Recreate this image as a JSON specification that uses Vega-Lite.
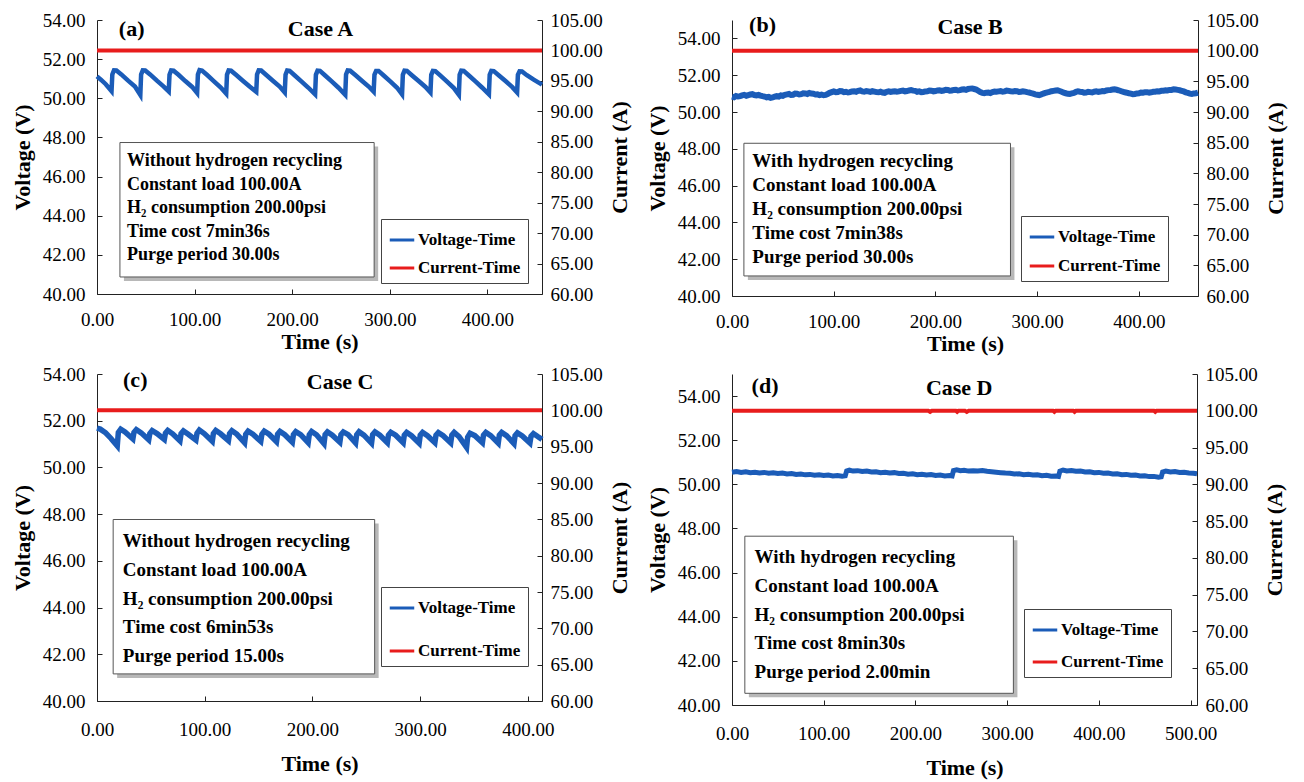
{
 "$schema": "https://vega.github.io/schema/vega-lite/v6.json",
 "padding": {"left": 11, "top": 11, "right": 4, "bottom": 5},
 "background": "white",
 "config": {
  "view": {"stroke": null},
  "axis": {"labelFont": "Liberation Serif", "labelFontSize": 19, "labelColor": "#000", "titleFont": "Liberation Serif", "titleFontSize": 22, "titleFontWeight": "bold", "titleColor": "#000", "domainColor": "#222", "tickColor": "#222", "tickSize": -5, "grid": false, "labelFlush": false, "labelOverlap": false},
  "axisBottom": {"labelPadding": 21, "titlePadding": 2},
  "axisLeft": {"labelPadding": 17, "titlePadding": 8},
  "axisRight": {"labelPadding": 13, "titlePadding": 29},
  "legend": {"labelFont": "Liberation Serif", "labelFontSize": 17, "labelFontWeight": "bold", "labelColor": "#000", "strokeColor": "#444", "fillColor": "white", "padding": 7, "symbolType": "stroke", "symbolSize": 600, "symbolStrokeWidth": 3, "labelOffset": 2}
 },
 "datasets": {
  "Av": [{"t":0,"v":51.12},{"t":4,"v":50.95},{"t":9,"v":50.72},{"t":14.9,"v":50.37},
   {"t":15.7,"v":51.22},{"t":17.4,"v":51.43},{"t":19.9,"v":51.42},{"t":24.9,"v":51.22},{"t":31.9,"v":50.9},{"t":38.9,"v":50.6},{"t":44.4,"v":50.17},
   {"t":45.2,"v":51.22},{"t":46.9,"v":51.43},{"t":49.4,"v":51.42},{"t":54.4,"v":51.22},{"t":61.4,"v":50.9},{"t":68.4,"v":50.6},{"t":73.5,"v":50.35},
   {"t":74.3,"v":51.2},{"t":76,"v":51.42},{"t":78.5,"v":51.41},{"t":83.5,"v":51.2},{"t":90.5,"v":50.88},{"t":97.5,"v":50.58},{"t":102.6,"v":50.27},
   {"t":103.4,"v":51.22},{"t":105.1,"v":51.44},{"t":107.6,"v":51.42},{"t":112.6,"v":51.2},{"t":119.6,"v":50.88},{"t":126.6,"v":50.56},{"t":132.4,"v":50.24},
   {"t":133.2,"v":51.2},{"t":134.9,"v":51.42},{"t":137.4,"v":51.41},{"t":142.4,"v":51.2},{"t":149.4,"v":50.9},{"t":156.4,"v":50.6},{"t":163.2,"v":50.33},
   {"t":164,"v":51.22},{"t":165.7,"v":51.43},{"t":168.2,"v":51.42},{"t":173.2,"v":51.2},{"t":180.2,"v":50.9},{"t":187.2,"v":50.6},{"t":192.4,"v":50.3},
   {"t":193.2,"v":51.2},{"t":194.9,"v":51.42},{"t":197.4,"v":51.4},{"t":202.4,"v":51.18},{"t":209.4,"v":50.86},{"t":216.4,"v":50.55},{"t":223.5,"v":50.2},
   {"t":224.3,"v":51.2},{"t":226,"v":51.41},{"t":228.5,"v":51.4},{"t":233.5,"v":51.18},{"t":240.5,"v":50.86},{"t":247.5,"v":50.54},{"t":254.4,"v":50.18},
   {"t":255.2,"v":51.22},{"t":256.9,"v":51.42},{"t":259.4,"v":51.41},{"t":264.4,"v":51.2},{"t":271.4,"v":50.9},{"t":278.4,"v":50.6},{"t":283.5,"v":50.34},
   {"t":284.3,"v":51.2},{"t":286,"v":51.4},{"t":288.5,"v":51.4},{"t":293.5,"v":51.18},{"t":300.5,"v":50.86},{"t":307.5,"v":50.54},{"t":312.6,"v":50.2},
   {"t":313.4,"v":51.2},{"t":315.1,"v":51.41},{"t":317.6,"v":51.4},{"t":322.6,"v":51.18},{"t":329.6,"v":50.88},{"t":336.6,"v":50.58},{"t":341.7,"v":50.3},
   {"t":342.5,"v":51.2},{"t":344.2,"v":51.4},{"t":346.7,"v":51.39},{"t":351.7,"v":51.17},{"t":358.7,"v":50.85},{"t":365.7,"v":50.52},{"t":370.8,"v":50.18},
   {"t":371.6,"v":51.2},{"t":373.3,"v":51.41},{"t":375.8,"v":51.4},{"t":380.8,"v":51.18},{"t":387.8,"v":50.86},{"t":394.8,"v":50.54},{"t":401.6,"v":50.2},
   {"t":402.4,"v":51.2},{"t":404.1,"v":51.4},{"t":406.6,"v":51.39},{"t":411.6,"v":51.18},{"t":418.6,"v":50.88},{"t":425.6,"v":50.57},{"t":430.5,"v":50.3},
   {"t":431.3,"v":51.2},{"t":433,"v":51.38},{"t":435.5,"v":51.37},{"t":440.5,"v":51.18},{"t":447.5,"v":50.95},{"t":456,"v":50.7}],
  "Ai": [{"t":0,"i":100},{"t":456,"i":100}],
  "Bv": [{"t":0,"v":50.83},{"t":2,"v":50.8},{"t":4,"v":50.87},{"t":6,"v":50.84},{"t":8,"v":50.86},{"t":10,"v":50.9},{"t":12,"v":50.93},{"t":14,"v":50.88},{"t":16,"v":50.92},{"t":18,"v":50.95},{"t":20,"v":50.97},{"t":22,"v":50.92},{"t":24,"v":50.9},{"t":26,"v":50.93},{"t":28,"v":50.89},{"t":30,"v":50.86},{"t":32,"v":50.84},{"t":34,"v":50.8},{"t":36,"v":50.82},{"t":38,"v":50.77},{"t":40,"v":50.79},{"t":42,"v":50.83},{"t":44,"v":50.86},{"t":46,"v":50.84},{"t":48,"v":50.9},{"t":50,"v":50.88},{"t":52,"v":50.93},{"t":54,"v":50.96},{"t":56,"v":50.98},{"t":58,"v":50.93},{"t":60,"v":50.94},{"t":62,"v":51.0},{"t":64,"v":50.99},{"t":66,"v":50.95},{"t":68,"v":50.97},{"t":70,"v":51.02},{"t":72,"v":51.01},{"t":74,"v":50.98},{"t":76,"v":51.03},{"t":78,"v":51.0},{"t":80,"v":50.99},{"t":82,"v":50.95},{"t":84,"v":50.96},{"t":86,"v":50.92},{"t":88,"v":50.95},{"t":90,"v":50.91},{"t":92,"v":50.93},{"t":94,"v":50.98},{"t":96,"v":51.04},{"t":98,"v":51.08},{"t":100,"v":51.12},{"t":102,"v":51.08},{"t":104,"v":51.09},{"t":106,"v":51.14},{"t":108,"v":51.13},{"t":110,"v":51.08},{"t":112,"v":51.1},{"t":114,"v":51.06},{"t":116,"v":51.08},{"t":118,"v":51.12},{"t":120,"v":51.13},{"t":122,"v":51.1},{"t":124,"v":51.15},{"t":126,"v":51.17},{"t":128,"v":51.12},{"t":130,"v":51.1},{"t":132,"v":51.14},{"t":134,"v":51.12},{"t":136,"v":51.09},{"t":138,"v":51.13},{"t":140,"v":51.11},{"t":142,"v":51.08},{"t":144,"v":51.07},{"t":146,"v":51.1},{"t":148,"v":51.06},{"t":150,"v":51.04},{"t":152,"v":51.1},{"t":154,"v":51.12},{"t":156,"v":51.09},{"t":158,"v":51.11},{"t":160,"v":51.13},{"t":162,"v":51.1},{"t":164,"v":51.12},{"t":166,"v":51.15},{"t":168,"v":51.16},{"t":170,"v":51.12},{"t":172,"v":51.14},{"t":174,"v":51.17},{"t":176,"v":51.19},{"t":178,"v":51.16},{"t":180,"v":51.15},{"t":182,"v":51.1},{"t":184,"v":51.12},{"t":186,"v":51.08},{"t":188,"v":51.09},{"t":190,"v":51.12},{"t":192,"v":51.13},{"t":194,"v":51.17},{"t":196,"v":51.16},{"t":198,"v":51.12},{"t":200,"v":51.14},{"t":202,"v":51.17},{"t":204,"v":51.18},{"t":206,"v":51.15},{"t":208,"v":51.17},{"t":210,"v":51.21},{"t":212,"v":51.2},{"t":214,"v":51.16},{"t":216,"v":51.17},{"t":218,"v":51.2},{"t":220,"v":51.21},{"t":222,"v":51.17},{"t":224,"v":51.19},{"t":226,"v":51.22},{"t":228,"v":51.23},{"t":230,"v":51.2},{"t":232,"v":51.25},{"t":234,"v":51.27},{"t":236,"v":51.28},{"t":238,"v":51.25},{"t":240,"v":51.22},{"t":242,"v":51.15},{"t":244,"v":51.08},{"t":246,"v":51.04},{"t":248,"v":51.02},{"t":250,"v":51.05},{"t":252,"v":51.06},{"t":254,"v":51.03},{"t":256,"v":51.08},{"t":258,"v":51.11},{"t":260,"v":51.1},{"t":262,"v":51.12},{"t":264,"v":51.14},{"t":266,"v":51.1},{"t":268,"v":51.12},{"t":270,"v":51.16},{"t":272,"v":51.15},{"t":274,"v":51.12},{"t":276,"v":51.11},{"t":278,"v":51.14},{"t":280,"v":51.13},{"t":282,"v":51.09},{"t":284,"v":51.1},{"t":286,"v":51.13},{"t":288,"v":51.11},{"t":290,"v":51.08},{"t":292,"v":51.06},{"t":294,"v":51.03},{"t":296,"v":51.0},{"t":298,"v":50.96},{"t":300,"v":50.94},{"t":302,"v":50.92},{"t":304,"v":50.95},{"t":306,"v":51.0},{"t":308,"v":51.04},{"t":310,"v":51.07},{"t":312,"v":51.09},{"t":314,"v":51.13},{"t":316,"v":51.15},{"t":318,"v":51.17},{"t":320,"v":51.18},{"t":322,"v":51.14},{"t":324,"v":51.1},{"t":326,"v":51.05},{"t":328,"v":51.02},{"t":330,"v":50.99},{"t":332,"v":50.98},{"t":334,"v":51.01},{"t":336,"v":51.04},{"t":338,"v":51.09},{"t":340,"v":51.12},{"t":342,"v":51.1},{"t":344,"v":51.09},{"t":346,"v":51.05},{"t":348,"v":51.06},{"t":350,"v":51.1},{"t":352,"v":51.08},{"t":354,"v":51.06},{"t":356,"v":51.1},{"t":358,"v":51.12},{"t":360,"v":51.09},{"t":362,"v":51.11},{"t":364,"v":51.14},{"t":366,"v":51.13},{"t":368,"v":51.17},{"t":370,"v":51.19},{"t":372,"v":51.2},{"t":374,"v":51.22},{"t":376,"v":51.23},{"t":378,"v":51.21},{"t":380,"v":51.18},{"t":382,"v":51.14},{"t":384,"v":51.1},{"t":386,"v":51.07},{"t":388,"v":51.05},{"t":390,"v":51.02},{"t":392,"v":51.0},{"t":394,"v":50.97},{"t":396,"v":50.98},{"t":398,"v":51.01},{"t":400,"v":51.02},{"t":402,"v":51.06},{"t":404,"v":51.05},{"t":406,"v":51.08},{"t":408,"v":51.08},{"t":410,"v":51.05},{"t":412,"v":51.07},{"t":414,"v":51.1},{"t":416,"v":51.1},{"t":418,"v":51.13},{"t":420,"v":51.12},{"t":422,"v":51.15},{"t":424,"v":51.15},{"t":426,"v":51.18},{"t":428,"v":51.17},{"t":430,"v":51.2},{"t":432,"v":51.2},{"t":434,"v":51.23},{"t":436,"v":51.22},{"t":438,"v":51.2},{"t":440,"v":51.18},{"t":442,"v":51.15},{"t":444,"v":51.12},{"t":446,"v":51.07},{"t":448,"v":51.04},{"t":450,"v":51.0},{"t":452,"v":50.98},{"t":454,"v":51.01},{"t":456,"v":51.02},{"t":458,"v":51.05}],
  "Bi": [{"t":0,"i":100},{"t":458,"i":100}],
  "Cv": [{"t":0,"v":51.68},{"t":3,"v":51.64},{"t":8,"v":51.48},{"t":13,"v":51.24},{"t":18.8,"v":50.92},
   {"t":19.8,"v":51.5},{"t":22,"v":51.64},{"t":26,"v":51.52},{"t":33.3,"v":51.22},
   {"t":34.3,"v":51.5},{"t":36.5,"v":51.62},{"t":41,"v":51.48},{"t":48,"v":51.18},
   {"t":49,"v":51.45},{"t":51.2,"v":51.58},{"t":55.7,"v":51.45},{"t":62.5,"v":51.2},
   {"t":63.5,"v":51.46},{"t":65.7,"v":51.58},{"t":70.2,"v":51.44},{"t":77,"v":51.14},
   {"t":78,"v":51.44},{"t":80.2,"v":51.56},{"t":84.7,"v":51.42},{"t":91.8,"v":51.17},
   {"t":92.8,"v":51.46},{"t":95,"v":51.6},{"t":99.5,"v":51.45},{"t":107,"v":51.12},
   {"t":108,"v":51.45},{"t":110.2,"v":51.58},{"t":114.7,"v":51.44},{"t":122,"v":51.15},
   {"t":123,"v":51.45},{"t":125.2,"v":51.57},{"t":129.7,"v":51.43},{"t":137,"v":51.06},
   {"t":138,"v":51.42},{"t":140.2,"v":51.55},{"t":144.7,"v":51.42},{"t":152,"v":51.12},
   {"t":153,"v":51.42},{"t":155.2,"v":51.55},{"t":159.7,"v":51.42},{"t":166.6,"v":51.1},
   {"t":167.6,"v":51.42},{"t":169.8,"v":51.54},{"t":174.3,"v":51.4},{"t":181.3,"v":51.08},
   {"t":182.3,"v":51.4},{"t":184.5,"v":51.53},{"t":189,"v":51.4},{"t":196,"v":51.06},
   {"t":197,"v":51.4},{"t":199.2,"v":51.54},{"t":203.7,"v":51.4},{"t":210.7,"v":51.02},
   {"t":211.7,"v":51.4},{"t":213.9,"v":51.52},{"t":218.4,"v":51.38},{"t":225.4,"v":51.08},
   {"t":226.4,"v":51.4},{"t":228.6,"v":51.52},{"t":233.1,"v":51.4},{"t":240,"v":51.05},
   {"t":241,"v":51.4},{"t":243.2,"v":51.53},{"t":247.7,"v":51.38},{"t":254.8,"v":51.04},
   {"t":255.8,"v":51.4},{"t":258,"v":51.52},{"t":262.5,"v":51.38},{"t":269.5,"v":51.06},
   {"t":270.5,"v":51.38},{"t":272.7,"v":51.5},{"t":277.2,"v":51.38},{"t":284.2,"v":51.06},
   {"t":285.2,"v":51.38},{"t":287.4,"v":51.5},{"t":291.9,"v":51.36},{"t":299,"v":51.04},
   {"t":300,"v":51.38},{"t":302.2,"v":51.5},{"t":306.7,"v":51.36},{"t":313.6,"v":51.06},
   {"t":314.6,"v":51.38},{"t":316.8,"v":51.49},{"t":321.3,"v":51.36},{"t":328.3,"v":51.05},
   {"t":329.3,"v":51.38},{"t":331.5,"v":51.5},{"t":336,"v":51.32},{"t":343,"v":50.86},
   {"t":344,"v":51.3},{"t":346.2,"v":51.46},{"t":350.7,"v":51.36},{"t":357.7,"v":51.06},
   {"t":358.7,"v":51.38},{"t":360.9,"v":51.5},{"t":365.4,"v":51.36},{"t":372.4,"v":51.04},
   {"t":373.4,"v":51.38},{"t":375.6,"v":51.5},{"t":380.1,"v":51.36},{"t":387,"v":51.02},
   {"t":388,"v":51.36},{"t":390.2,"v":51.48},{"t":394.7,"v":51.35},{"t":401.8,"v":51.05},
   {"t":402.8,"v":51.34},{"t":405,"v":51.45},{"t":409,"v":51.32},{"t":413,"v":51.2}],
  "Ci": [{"t":0,"i":100},{"t":413,"i":100}],
  "Dv": [{"t":0,"v":50.55},{"t":5,"v":50.58},{"t":10,"v":50.54},{"t":15,"v":50.57},{"t":20,"v":50.53},{"t":25,"v":50.55},{"t":30,"v":50.51},{"t":35,"v":50.54},{"t":40,"v":50.5},{"t":45,"v":50.52},{"t":50,"v":50.49},{"t":55,"v":50.51},{"t":60,"v":50.47},{"t":65,"v":50.49},{"t":70,"v":50.45},{"t":75,"v":50.47},{"t":80,"v":50.43},{"t":85,"v":50.45},{"t":90,"v":50.41},{"t":95,"v":50.43},{"t":100,"v":50.4},{"t":105,"v":50.42},{"t":110,"v":50.38},{"t":115,"v":50.4},{"t":120,"v":50.37},{"t":123.5,"v":50.39},
   {"t":125,"v":50.6},{"t":128,"v":50.64},{"t":132,"v":50.6},{"t":137,"v":50.62},{"t":142,"v":50.58},{"t":147,"v":50.6},{"t":152,"v":50.56},{"t":157,"v":50.57},{"t":162,"v":50.53},{"t":167,"v":50.55},{"t":172,"v":50.51},{"t":177,"v":50.53},{"t":182,"v":50.49},{"t":187,"v":50.5},{"t":192,"v":50.46},{"t":197,"v":50.48},{"t":202,"v":50.44},{"t":207,"v":50.46},{"t":212,"v":50.42},{"t":217,"v":50.44},{"t":222,"v":50.4},{"t":227,"v":50.42},{"t":232,"v":50.38},{"t":237,"v":50.4},{"t":240,"v":50.38},
   {"t":241.5,"v":50.62},{"t":245,"v":50.66},{"t":249,"v":50.62},{"t":253,"v":50.64},{"t":258,"v":50.6},{"t":263,"v":50.62},{"t":268,"v":50.6},{"t":273,"v":50.63},{"t":278,"v":50.59},{"t":283,"v":50.57},{"t":288,"v":50.55},{"t":293,"v":50.53},{"t":298,"v":50.51},{"t":303,"v":50.5},{"t":308,"v":50.47},{"t":313,"v":50.48},{"t":318,"v":50.44},{"t":323,"v":50.46},{"t":328,"v":50.42},{"t":333,"v":50.43},{"t":338,"v":50.39},{"t":343,"v":50.41},{"t":348,"v":50.37},{"t":353,"v":50.38},{"t":356,"v":50.36},
   {"t":357.5,"v":50.6},{"t":361,"v":50.65},{"t":365,"v":50.61},{"t":370,"v":50.63},{"t":375,"v":50.59},{"t":380,"v":50.6},{"t":385,"v":50.56},{"t":390,"v":50.57},{"t":395,"v":50.53},{"t":400,"v":50.54},{"t":405,"v":50.5},{"t":410,"v":50.51},{"t":415,"v":50.47},{"t":420,"v":50.48},{"t":425,"v":50.44},{"t":430,"v":50.45},{"t":435,"v":50.41},{"t":440,"v":50.42},{"t":445,"v":50.38},{"t":450,"v":50.39},{"t":455,"v":50.35},{"t":460,"v":50.36},{"t":465,"v":50.32},{"t":468,"v":50.34},
   {"t":469.5,"v":50.56},{"t":473,"v":50.6},{"t":478,"v":50.56},{"t":483,"v":50.58},{"t":488,"v":50.54},{"t":493,"v":50.55},{"t":498,"v":50.51},{"t":503,"v":50.5},{"t":507,"v":50.48}],
  "Di": [{"t":0,"i":100},{"t":214,"i":100},{"t":216,"i":99.85},{"t":218,"i":100},{"t":244,"i":100},{"t":245.5,"i":99.85},{"t":247,"i":100},{"t":254,"i":100},{"t":256,"i":99.85},{"t":258,"i":100},{"t":350,"i":100},{"t":351.5,"i":99.85},{"t":353,"i":100},{"t":372,"i":100},{"t":373.5,"i":99.85},{"t":375,"i":100},{"t":460,"i":100},{"t":461.5,"i":99.85},{"t":463,"i":100},{"t":507,"i":100}]
 },
 "columns": 2,
 "spacing": {"row": 23, "column": 169},
 "bounds": "flush",
 "align": "all",
 "resolve": {"scale": {"x": "independent", "y": "independent", "color": "independent"}, "legend": {"color": "independent"}},
 "concat": [
  {
   "width": 445, "height": 274,
   "layer": [
    {"layer": [
      {"data": {"values": [{}]}, "mark": {"type": "rect", "fill": "#9a9a9a", "opacity": 0.7},
       "encoding": {"x": {"datum": 27.6, "type": "quantitative", "scale": {"domain": [0, 456], "nice": false}, "axis": {"title": "Time (s)", "values": [0, 100, 200, 300, 400], "format": ".2f"}},
                    "x2": {"datum": 288.1},
                    "y": {"datum": 47.54, "type": "quantitative", "scale": {"domain": [40, 54], "nice": false}, "axis": {"title": "Voltage (V)", "values": [40, 42, 44, 46, 48, 50, 52, 54], "tickCount": 8, "format": ".2f"}},
                    "y2": {"datum": 40.67}}},
      {"data": {"values": [{}]}, "mark": {"type": "rect", "fill": "white", "stroke": "#555", "strokeWidth": 1},
       "encoding": {"x": {"datum": 23.5}, "x2": {"datum": 284}, "y": {"datum": 47.74}, "y2": {"datum": 40.87}}},
      {"data": {"values": [{}]}, "mark": {"type": "text", "text": ["Without hydrogen recycling", "Constant load 100.00A", "H₂ consumption 200.00psi", "Time cost 7min36s", "Purge period 30.00s"], "align": "left", "baseline": "top", "font": "Liberation Serif", "fontSize": 18, "fontWeight": "bold", "lineHeight": 23.5, "color": "#000"},
       "encoding": {"x": {"datum": 30.8}, "y": {"datum": 47.25}}},
      {"data": {"values": [{}]}, "mark": {"type": "text", "text": "(a)", "align": "center", "baseline": "middle", "font": "Liberation Serif", "fontSize": 22, "fontWeight": "bold", "color": "#000"},
       "encoding": {"x": {"datum": 35.5}, "y": {"datum": 53.54}}},
      {"data": {"values": [{}]}, "mark": {"type": "text", "text": "Case A", "align": "center", "baseline": "middle", "font": "Liberation Serif", "fontSize": 22, "fontWeight": "bold", "color": "#000"},
       "encoding": {"x": {"datum": 229}, "y": {"datum": 53.54}}},
      {"data": {"name": "Av"}, "mark": {"type": "line", "strokeWidth": 4.5},
       "encoding": {"x": {"field": "t", "type": "quantitative"}, "y": {"field": "v", "type": "quantitative", "axis": {"title": "Voltage (V)", "values": [40, 42, 44, 46, 48, 50, 52, 54], "tickCount": 8, "format": ".2f"}},
                    "color": {"datum": "Voltage-Time", "type": "nominal", "scale": {"domain": ["Voltage-Time", "Current-Time"], "range": ["#1b5cb8", "#e81c1c"]},
                              "legend": {"title": null, "orient": "none", "legendX": 284, "legendY": 199, "rowPadding": 6}}}}
    ]},
    {"data": {"name": "Ai"}, "mark": {"type": "line", "strokeWidth": 4},
     "encoding": {"x": {"field": "t", "type": "quantitative"},
                  "y": {"field": "i", "type": "quantitative", "scale": {"domain": [60, 105], "nice": false}, "axis": {"orient": "right", "title": "Current (A)", "titleAngle": 270, "values": [60, 65, 70, 75, 80, 85, 90, 95, 100, 105], "format": ".2f"}},
                  "color": {"datum": "Current-Time", "type": "nominal"}}}
   ],
   "resolve": {"scale": {"y": "independent"}}
  },
  {
   "width": 466, "height": 276,
   "layer": [
    {"layer": [
      {"data": {"values": [{}]}, "mark": {"type": "rect", "fill": "#9a9a9a", "opacity": 0.7},
       "encoding": {"x": {"datum": 15.6, "type": "quantitative", "scale": {"domain": [0, 458], "nice": false}, "axis": {"title": "Time (s)", "values": [0, 100, 200, 300, 400], "format": ".2f"}},
                    "x2": {"datum": 277.6},
                    "y": {"datum": 48.08, "type": "quantitative", "scale": {"domain": [40, 55], "nice": false}, "axis": {"title": "Voltage (V)", "values": [40, 42, 44, 46, 48, 50, 52, 54], "tickCount": 8, "format": ".2f"}},
                    "y2": {"datum": 40.87}}},
      {"data": {"values": [{}]}, "mark": {"type": "rect", "fill": "white", "stroke": "#555", "strokeWidth": 1},
       "encoding": {"x": {"datum": 11.7}, "x2": {"datum": 273.7}, "y": {"datum": 48.3}, "y2": {"datum": 41.09}}},
      {"data": {"values": [{}]}, "mark": {"type": "text", "text": ["With hydrogen recycling", "Constant load 100.00A", "H₂ consumption 200.00psi", "Time cost 7min38s", "Purge period 30.00s"], "align": "left", "baseline": "top", "font": "Liberation Serif", "fontSize": 19, "fontWeight": "bold", "lineHeight": 24, "color": "#000"},
       "encoding": {"x": {"datum": 20}, "y": {"datum": 47.81}}},
      {"data": {"values": [{}]}, "mark": {"type": "text", "text": "(b)", "align": "center", "baseline": "middle", "font": "Liberation Serif", "fontSize": 22, "fontWeight": "bold", "color": "#000"},
       "encoding": {"x": {"datum": 30}, "y": {"datum": 54.73}}},
      {"data": {"values": [{}]}, "mark": {"type": "text", "text": "Case B", "align": "center", "baseline": "middle", "font": "Liberation Serif", "fontSize": 22, "fontWeight": "bold", "color": "#000"},
       "encoding": {"x": {"datum": 234}, "y": {"datum": 54.6}}},
      {"data": {"name": "Bv"}, "mark": {"type": "line", "strokeWidth": 6},
       "encoding": {"x": {"field": "t", "type": "quantitative"}, "y": {"field": "v", "type": "quantitative", "axis": {"title": "Voltage (V)", "values": [40, 42, 44, 46, 48, 50, 52, 54], "tickCount": 8, "format": ".2f"}},
                    "color": {"datum": "Voltage-Time", "type": "nominal", "scale": {"domain": ["Voltage-Time", "Current-Time"], "range": ["#1b5cb8", "#e81c1c"]},
                              "legend": {"title": null, "orient": "none", "legendX": 289, "legendY": 196, "rowPadding": 7}}}}
    ]},
    {"data": {"name": "Bi"}, "mark": {"type": "line", "strokeWidth": 4},
     "encoding": {"x": {"field": "t", "type": "quantitative"},
                  "y": {"field": "i", "type": "quantitative", "scale": {"domain": [60, 105], "nice": false}, "axis": {"orient": "right", "title": "Current (A)", "titleAngle": 270, "values": [60, 65, 70, 75, 80, 85, 90, 95, 100, 105], "format": ".2f"}},
                  "color": {"datum": "Current-Time", "type": "nominal"}}}
   ],
   "resolve": {"scale": {"y": "independent"}}
  },
  {
   "width": 445, "height": 327,
   "layer": [
    {"layer": [
      {"data": {"values": [{}]}, "mark": {"type": "rect", "fill": "#9a9a9a", "opacity": 0.7},
       "encoding": {"x": {"datum": 18.7, "type": "quantitative", "scale": {"domain": [0, 413], "nice": false}, "axis": {"title": "Time (s)", "values": [0, 100, 200, 300, 400], "format": ".2f", "labelPadding": 24, "titlePadding": 14}},
                    "x2": {"datum": 261.4},
                    "y": {"datum": 47.6, "type": "quantitative", "scale": {"domain": [40, 54], "nice": false}, "axis": {"title": "Voltage (V)", "values": [40, 42, 44, 46, 48, 50, 52, 54], "format": ".2f"}},
                    "y2": {"datum": 40.99}}},
      {"data": {"values": [{}]}, "mark": {"type": "rect", "fill": "white", "stroke": "#555", "strokeWidth": 1},
       "encoding": {"x": {"datum": 15}, "x2": {"datum": 257.7}, "y": {"datum": 47.77}, "y2": {"datum": 41.16}}},
      {"data": {"values": [{}]}, "mark": {"type": "text", "text": ["Without hydrogen recycling", "Constant load 100.00A", "H₂ consumption 200.00psi", "Time cost 6min53s", "Purge period 15.00s"], "align": "left", "baseline": "top", "font": "Liberation Serif", "fontSize": 19, "fontWeight": "bold", "lineHeight": 28.6, "color": "#000"},
       "encoding": {"x": {"datum": 24}, "y": {"datum": 47.22}}},
      {"data": {"values": [{}]}, "mark": {"type": "text", "text": "(c)", "align": "center", "baseline": "middle", "font": "Liberation Serif", "fontSize": 22, "fontWeight": "bold", "color": "#000"},
       "encoding": {"x": {"datum": 35.5}, "y": {"datum": 53.74}}},
      {"data": {"values": [{}]}, "mark": {"type": "text", "text": "Case C", "align": "center", "baseline": "middle", "font": "Liberation Serif", "fontSize": 22, "fontWeight": "bold", "color": "#000"},
       "encoding": {"x": {"datum": 225.6}, "y": {"datum": 53.67}}},
      {"data": {"name": "Cv"}, "mark": {"type": "line", "strokeWidth": 5.5},
       "encoding": {"x": {"field": "t", "type": "quantitative"}, "y": {"field": "v", "type": "quantitative", "axis": {"title": "Voltage (V)", "values": [40, 42, 44, 46, 48, 50, 52, 54], "format": ".2f"}},
                    "color": {"datum": "Voltage-Time", "type": "nominal", "scale": {"domain": ["Voltage-Time", "Current-Time"], "range": ["#1b5cb8", "#e81c1c"]},
                              "legend": {"title": null, "orient": "none", "legendX": 284, "legendY": 213, "rowPadding": 21}}}}
    ]},
    {"data": {"name": "Ci"}, "mark": {"type": "line", "strokeWidth": 4},
     "encoding": {"x": {"field": "t", "type": "quantitative"},
                  "y": {"field": "i", "type": "quantitative", "scale": {"domain": [60, 105], "nice": false}, "axis": {"orient": "right", "title": "Current (A)", "titleAngle": 270, "values": [60, 65, 70, 75, 80, 85, 90, 95, 100, 105], "format": ".2f"}},
                  "color": {"datum": "Current-Time", "type": "nominal"}}}
   ],
   "resolve": {"scale": {"y": "independent"}}
  },
  {
   "width": 465, "height": 331,
   "layer": [
    {"layer": [
      {"data": {"values": [{}]}, "mark": {"type": "rect", "fill": "#9a9a9a", "opacity": 0.7},
       "encoding": {"x": {"datum": 18.4, "type": "quantitative", "scale": {"domain": [0, 507], "nice": false}, "axis": {"title": "Time (s)", "values": [0, 100, 200, 300, 400, 500], "format": ".2f", "labelPadding": 24, "titlePadding": 14}},
                    "x2": {"datum": 311.2},
                    "y": {"datum": 47.47, "type": "quantitative", "scale": {"domain": [40, 55], "nice": false}, "axis": {"title": "Voltage (V)", "values": [40, 42, 44, 46, 48, 50, 52, 54], "format": ".2f"}},
                    "y2": {"datum": 40.35}}},
      {"data": {"values": [{}]}, "mark": {"type": "rect", "fill": "white", "stroke": "#555", "strokeWidth": 1},
       "encoding": {"x": {"datum": 14}, "x2": {"datum": 306.8}, "y": {"datum": 47.65}, "y2": {"datum": 40.53}}},
      {"data": {"values": [{}]}, "mark": {"type": "text", "text": ["With hydrogen recycling", "Constant load 100.00A", "H₂ consumption 200.00psi", "Time cost 8min30s", "Purge period 2.00min"], "align": "left", "baseline": "top", "font": "Liberation Serif", "fontSize": 19, "fontWeight": "bold", "lineHeight": 28.7, "color": "#000"},
       "encoding": {"x": {"datum": 24.6}, "y": {"datum": 47.1}}},
      {"data": {"values": [{}]}, "mark": {"type": "text", "text": "(d)", "align": "center", "baseline": "middle", "font": "Liberation Serif", "fontSize": 22, "fontWeight": "bold", "color": "#000"},
       "encoding": {"x": {"datum": 36}, "y": {"datum": 54.45}}},
      {"data": {"values": [{}]}, "mark": {"type": "text", "text": "Case D", "align": "center", "baseline": "middle", "font": "Liberation Serif", "fontSize": 22, "fontWeight": "bold", "color": "#000"},
       "encoding": {"x": {"datum": 247.7}, "y": {"datum": 54.38}}},
      {"data": {"name": "Dv"}, "mark": {"type": "line", "strokeWidth": 5},
       "encoding": {"x": {"field": "t", "type": "quantitative"}, "y": {"field": "v", "type": "quantitative", "axis": {"title": "Voltage (V)", "values": [40, 42, 44, 46, 48, 50, 52, 54], "format": ".2f"}},
                    "color": {"datum": "Voltage-Time", "type": "nominal", "scale": {"domain": ["Voltage-Time", "Current-Time"], "range": ["#1b5cb8", "#e81c1c"]},
                              "legend": {"title": null, "orient": "none", "legendX": 292, "legendY": 235, "rowPadding": 10}}}}
    ]},
    {"data": {"name": "Di"}, "mark": {"type": "line", "strokeWidth": 4},
     "encoding": {"x": {"field": "t", "type": "quantitative"},
                  "y": {"field": "i", "type": "quantitative", "scale": {"domain": [60, 105], "nice": false}, "axis": {"orient": "right", "title": "Current (A)", "titleAngle": 270, "values": [60, 65, 70, 75, 80, 85, 90, 95, 100, 105], "format": ".2f"}},
                  "color": {"datum": "Current-Time", "type": "nominal"}}}
   ],
   "resolve": {"scale": {"y": "independent"}}
  }
 ]
}
